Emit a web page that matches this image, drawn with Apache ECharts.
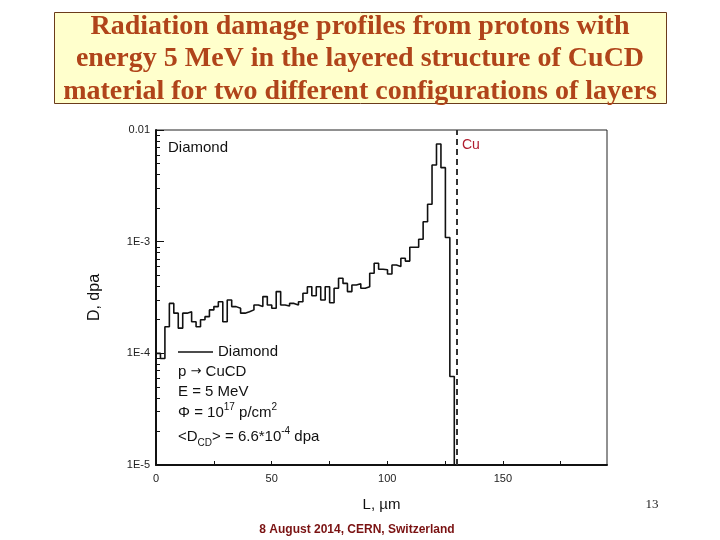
<!DOCTYPE html>
<html>
<head>
<meta charset="utf-8">
<script src="https://cdn.jsdelivr.net/npm/echarts@6/dist/echarts.min.js"></script>
<style>html,body{margin:0;padding:0;background:#fff;}#c{width:720px;height:540px;}</style>
</head>
<body>
<div id="c"></div>
<script>
// Damage profile (dpa) per depth bin, Diamond, p -> CuCD, 5 MeV
const binWidth = 1.925; // µm
const damage = [
  1.0e-4, 9.0e-5, 1.73e-4, 2.8e-4, 2.29e-4, 1.68e-4, 2.29e-4, 2.36e-4, 1.92e-4, 1.73e-4,
  2.0e-4, 2.13e-4, 2.45e-4, 2.62e-4, 2.9e-4, 1.92e-4, 3.0e-4, 2.62e-4, 2.53e-4, 2.29e-4,
  2.36e-4, 2.45e-4, 2.71e-4, 2.62e-4, 3.22e-4, 2.71e-4, 2.53e-4, 3.57e-4, 2.71e-4, 2.65e-4,
  2.8e-4, 2.71e-4, 2.9e-4, 3.45e-4, 3.95e-4, 3.28e-4, 3.95e-4, 3.0e-4, 3.95e-4, 2.84e-4,
  3.83e-4, 4.7e-4, 4.23e-4, 3.57e-4, 4.09e-4, 4.2e-4, 3.83e-4, 3.95e-4, 5.21e-4, 6.41e-4,
  5.66e-4, 5.6e-4, 5.14e-4, 6.18e-4, 6.0e-4, 7.1e-4, 6.7e-4, 8.9e-4, 8.9e-4, 1.05e-3,
  1.51e-3, 2.16e-3, 4.86e-3, 7.5e-3, 4.6e-3, 1.09e-3, 6.2e-5
];
const cuBoundary = 130; // µm
const xTicks = [0, 50, 100, 150];
const yTickLabels = {'0.01': '0.01', '0.001': '1E-3', '0.0001': '1E-4', '0.00001': '1E-5'};

const yMin = 1e-5, yMax = 0.01;
const pts = damage.map((v, i) => [i * binWidth, v]);
const xEnd = damage.length * binWidth;
pts.push([xEnd, damage[damage.length - 1]]);
pts.push([xEnd, yMin]);

const minorY = [];
for (let e = -5; e < -2; e++) for (let k = 2; k <= 9; k++) minorY.push(+(k * Math.pow(10, e)).toPrecision(3));

const chart = echarts.init(document.getElementById('c'));
const fontA = 'Arial, "Liberation Sans", sans-serif';
chart.setOption({
  animation: false,
  backgroundColor: '#fff',
  grid: {left: 156, right: 113, top: 130, bottom: 75, show: true, borderColor: '#222', borderWidth: 1},
  xAxis: {
    type: 'value', min: 0, max: 195, interval: 25,
    axisLine: {show: true, onZero: false, lineStyle: {color: '#111', width: 2}},
    axisTick: {inside: true, length: 4, lineStyle: {color: '#111'},
      customValues: [0, 25, 50, 75, 100, 125, 150, 175]},
    axisLabel: {color: '#222', fontSize: 11, fontFamily: fontA, margin: 8, customValues: xTicks,
      formatter: v => String(v)},
    splitLine: {show: false},
    name: 'L, \u00b5m', nameLocation: 'middle', nameGap: 32,
    nameTextStyle: {color: '#111', fontSize: 15, fontFamily: fontA}
  },
  yAxis: [{
    type: 'log', logBase: 10, min: yMin, max: yMax,
    axisLine: {show: true, onZero: false, lineStyle: {color: '#111', width: 2}},
    axisTick: {inside: true, length: 8, lineStyle: {color: '#111'}},
    axisLabel: {color: '#222', fontSize: 11, fontFamily: fontA, margin: 6,
      formatter: v => yTickLabels[String(v)] || ''},
    splitLine: {show: false},
    name: 'D, dpa', nameLocation: 'middle', nameGap: 53, nameRotate: 90,
    nameTextStyle: {color: '#111', fontSize: 16, fontFamily: fontA}
  }, {
    type: 'log', logBase: 10, min: yMin, max: yMax, position: 'left', offset: 0,
    axisLine: {show: false},
    axisTick: {show: true, inside: true, length: 4, lineStyle: {color: '#111'}, customValues: minorY},
    axisLabel: {show: false},
    splitLine: {show: false}
  }],
  series: [{
    type: 'line', step: 'end', data: pts, showSymbol: false, symbol: 'none',
    lineStyle: {color: '#111', width: 1.6},
    markLine: {
      silent: true, symbol: 'none', label: {show: false},
      lineStyle: {color: '#333', type: [6, 4], width: 2},
      data: [{xAxis: cuBoundary}]
    }
  }],
  graphic: [
    {type: 'rect', shape: {x: 54.5, y: 12.5, width: 612, height: 91},
      style: {fill: '#ffffcc', stroke: '#6b3b1b', lineWidth: 1}},
    {type: 'text', x: 360, y: 59,
      style: {text: 'Radiation damage profiles from protons with\nenergy 5 MeV in the layered structure of CuCD\nmaterial for two different configurations of layers',
        align: 'center', verticalAlign: 'middle', fill: '#b0441a',
        font: 'bold 28px "Liberation Serif", "Times New Roman", serif', lineHeight: 32.5}},
    {type: 'text', x: 168, y: 148, style: {text: 'Diamond', fill: '#111', font: '15px ' + fontA, verticalAlign: 'middle'}},
    {type: 'text', x: 462, y: 145, style: {text: 'Cu', fill: '#b01c2e', font: '14px ' + fontA, verticalAlign: 'middle'}},
    {type: 'line', shape: {x1: 178, y1: 352, x2: 213, y2: 352}, style: {stroke: '#111', lineWidth: 1.3}},
    {type: 'text', x: 218, y: 352, style: {text: 'Diamond', fill: '#111', font: '15px ' + fontA, verticalAlign: 'middle'}},
    {type: 'text', x: 178, y: 372, style: {
      text: 'p {arr|\u2192} CuCD', fill: '#111', font: '15px ' + fontA, verticalAlign: 'middle', lineHeight: 20,
      rich: {arr: {fontSize: 13, fontFamily: '"DejaVu Sans", sans-serif', lineHeight: 20, fill: '#111', verticalAlign: 'middle'}}}},
    {type: 'text', x: 178, y: 392, style: {text: 'E = 5 MeV', fill: '#111', font: '15px ' + fontA, verticalAlign: 'middle'}},
    {type: 'text', x: 178, y: 413, style: {
      text: '\u03a6 = 10{sup|17} p/cm{sup|2}', fill: '#111', font: '15px ' + fontA, verticalAlign: 'middle', lineHeight: 22,
      rich: {sup: {fontSize: 10, fontFamily: fontA, verticalAlign: 'top', lineHeight: 22, fill: '#111', padding: [0, 0, 8, 0]}}}},
    {type: 'text', x: 178, y: 437, style: {
      text: '<D{sub|CD}> = 6.6*10{sup|-4} dpa', fill: '#111', font: '15px ' + fontA, verticalAlign: 'middle', lineHeight: 22,
      rich: {
        sub: {fontSize: 10, fontFamily: fontA, verticalAlign: 'bottom', lineHeight: 22, fill: '#111', padding: [10, 0, 0, 0]},
        sup: {fontSize: 10, fontFamily: fontA, verticalAlign: 'top', lineHeight: 22, fill: '#111', padding: [0, 0, 8, 0]}}}},
    {type: 'text', x: 652, y: 505, style: {text: '13', fill: '#222', font: '13px "Liberation Serif", serif', align: 'center', verticalAlign: 'middle'}},
    {type: 'text', x: 357, y: 530, style: {text: '8 August 2014, CERN, Switzerland', fill: '#7a1212', font: 'bold 12px ' + fontA, align: 'center', verticalAlign: 'middle'}}
  ]
});
</script>
</body>
</html>
